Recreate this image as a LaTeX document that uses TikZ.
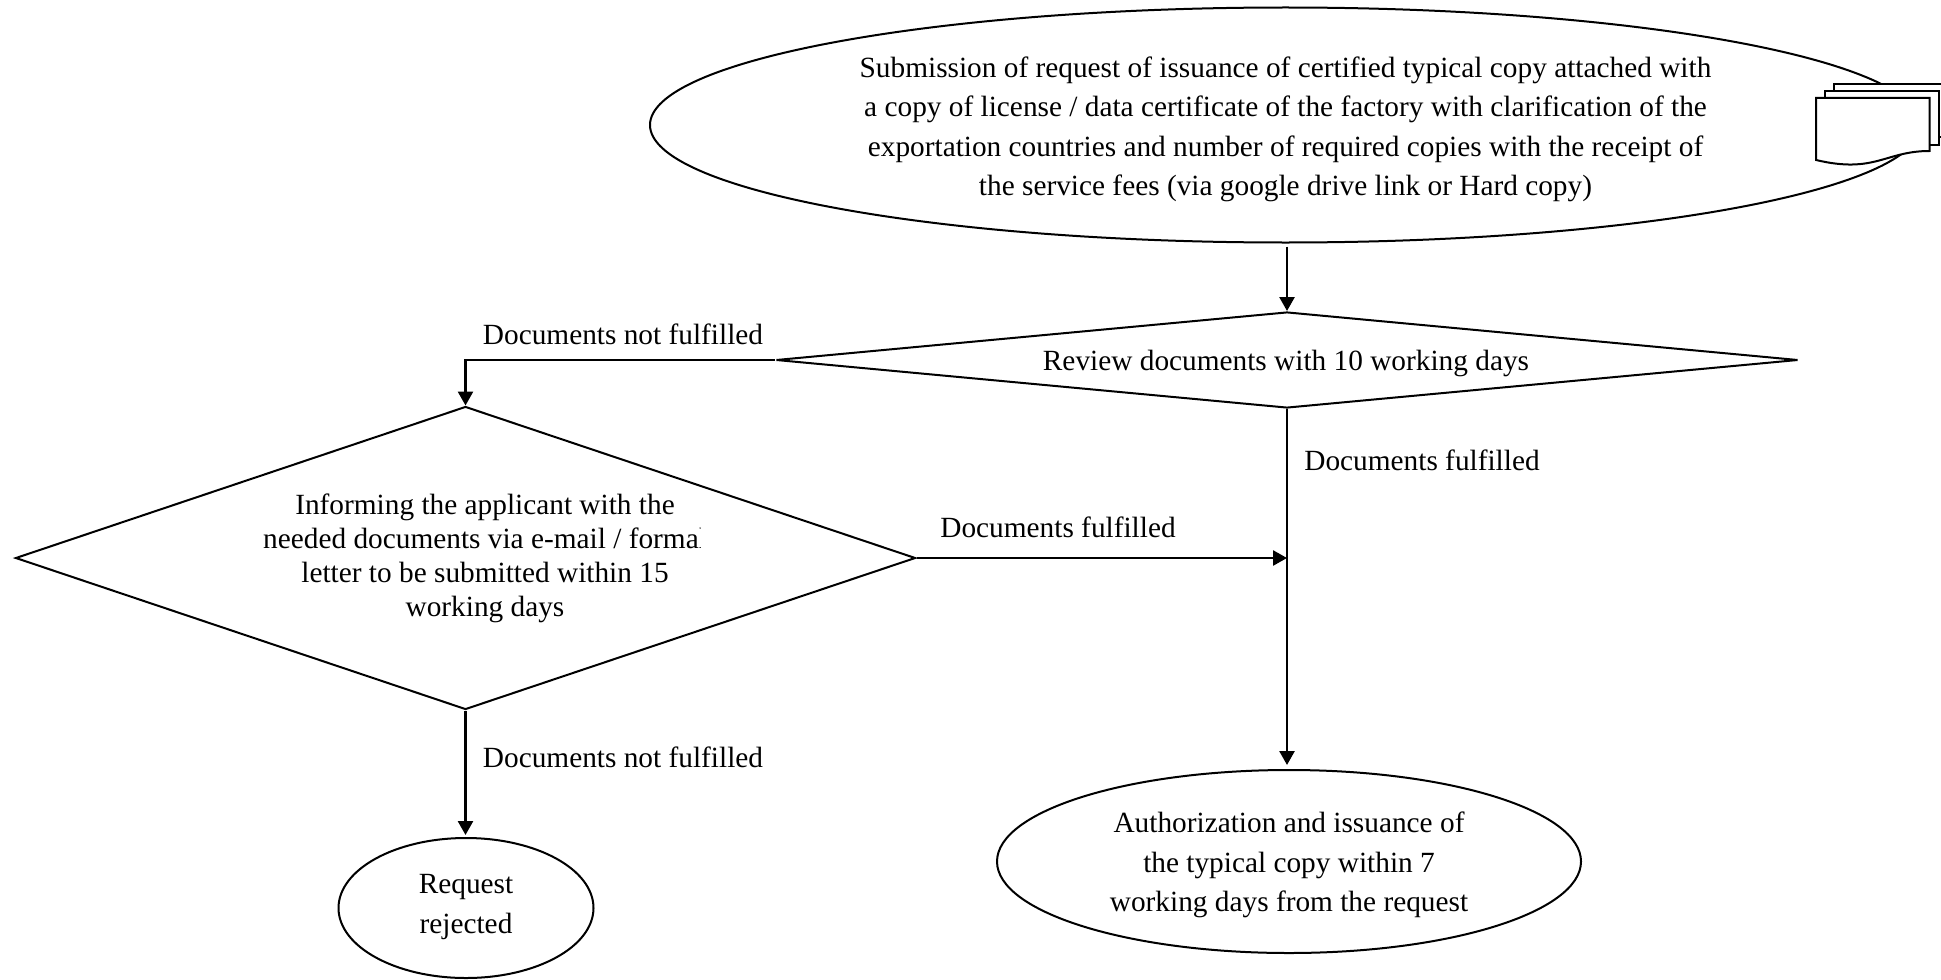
\documentclass[tikz,border=0pt]{standalone}
\usepackage{fontspec}
\setmainfont{Liberation Serif}
\usetikzlibrary{shapes.geometric,arrows.meta}
\tikzset{
  x=0.5pt,y=-0.5pt,
  outline/.style={draw=black,line width=1pt,fill=white,inner sep=0pt},
  ovalbox/.style={outline,ellipse},
  rhombus/.style={outline,diamond},
  lbl/.style={font=\fontsize{14.66}{19.7}\selectfont,inner sep=0pt},
  txt/.style={font=\fontsize{14.66}{19.7}\selectfont,align=center,inner sep=0pt},
  flow/.style={draw=black,line width=1.3pt,-{Triangle[length=7pt,width=7.5pt]}},
  wire/.style={draw=black,line width=1.3pt},
  sheet/.style={draw=black,line width=1pt,fill=white},
}
\begin{document}
\begin{tikzpicture}
\useasboundingbox (0,0) rectangle (1941,979);
% top ellipse
\node[ovalbox,minimum width=635.5pt,minimum height=117.5pt] (start) at (1285.5,125) {};
\node[txt] (starttext) at (1285.5,129.5)
 {Submission of request of issuance of certified typical copy attached with\\
  a copy of license / data certificate of the factory with clarification of the\\
  exportation countries and number of required copies with the receipt of\\
  the service fees (via google drive link or Hard copy)};
% document stack
\draw[sheet] (1834,84) -- (1948,84) -- (1948,137) -- (1834,137) -- cycle;
\draw[sheet] (1825,91) -- (1939,91) -- (1939,145) -- (1825,145) -- cycle;
\draw[sheet] (1816,98) -- (1929.5,98) -- (1929.5,151) .. controls (1885,151) and (1875,174) .. (1816,160) -- cycle;
% decisions
\node[rhombus,minimum width=511pt,minimum height=48pt,aspect=10.6] (review) at (1287,360) {};
\node[txt] (reviewtext) at (1286,363) {Review documents with 10 working days};
\node[rhombus,minimum width=450pt,minimum height=151.5pt,aspect=2.97] (inform) at (465.5,558) {};
\begin{scope}
\clip (250,480) rectangle (700.5,640);
\node[txt,font=\fontsize{14.66}{17}\selectfont] (informtext) at (485,558) {Informing the applicant with the\\
  needed documents via e-mail / formal\\
  letter to be submitted within 15\\
  working days};
\end{scope}
% ends
\node[ovalbox,minimum width=292pt,minimum height=91.5pt] (issue) at (1289,861.5) {};
\node[txt] (issuetext) at (1289,865) {Authorization and issuance of\\the typical copy within 7\\working days from the request};
\node[ovalbox,minimum width=127.5pt,minimum height=70pt] (reject) at (466,908) {};
\node[txt] (rejecttext) at (466,907) {Request\\rejected};
% connectors
\coordinate (join) at (review.south |- inform.east);
\draw[flow,shorten <=1.5pt] (review.north |- start.south) -- (review.north);
\draw[flow] (review.west) -| (inform.north);
\draw[wire] (review.south) -- (join);
\draw[flow] (inform.east) -- (join);
\draw[flow,shorten >=2pt] (join) -- (join |- issue.north);
\draw[flow,shorten >=1pt] (inform.south) -- (inform.south |- reject.north);
% labels
\node[lbl] (l1) at (623,334) {Documents not fulfilled};
\node[lbl] (l2) at (1058,527) {Documents fulfilled};
\node[lbl] (l3) at (1422,460) {Documents fulfilled};
\node[lbl] (l4) at (623,757) {Documents not fulfilled};
\end{tikzpicture}
\end{document}
